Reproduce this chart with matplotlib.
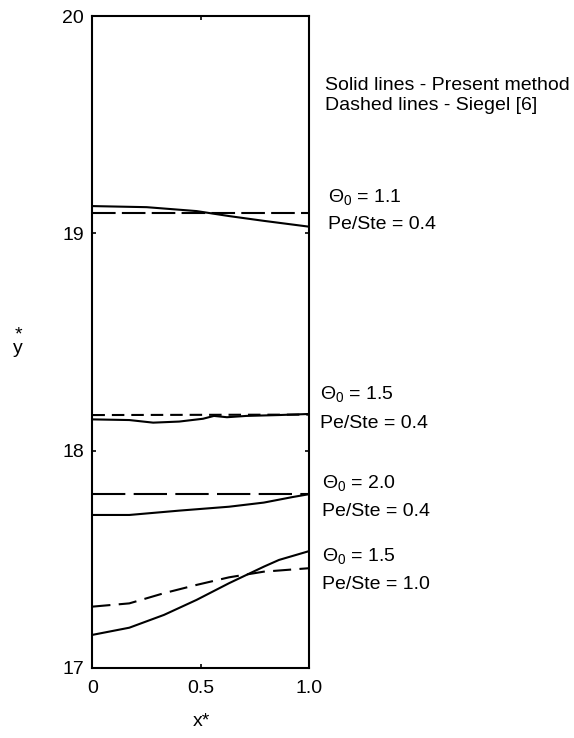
import numpy as np
import matplotlib
matplotlib.use("Agg")
import matplotlib.pyplot as plt
import matplotlib.transforms as mtransforms

plt.rcParams['font.family'] = ['Liberation Sans', 'DejaVu Sans']
plt.rcParams['mathtext.fontset'] = 'custom'
plt.rcParams['mathtext.rm'] = 'Liberation Sans'
plt.rcParams['mathtext.it'] = 'Liberation Sans'
plt.rcParams['lines.scale_dashes'] = False

# present method (solid) and Siegel [6] (dashed)
x_solid_a = [0.0, 0.25, 0.48, 0.63, 0.79, 1.0]
y_solid_a = [19.126, 19.121, 19.103, 19.080, 19.058, 19.031]
x_dash_a = [0.0, 1.0]
y_dash_a = [19.094, 19.094]

x_solid_b = [0.0, 0.17, 0.28, 0.40, 0.51, 0.56, 0.62, 0.71, 0.86, 1.0]
y_solid_b = [18.144, 18.141, 18.129, 18.134, 18.147, 18.160, 18.154, 18.160, 18.164, 18.169]
x_dash_b = [0.0, 1.0]
y_dash_b = [18.164, 18.166]

x_solid_c = [0.0, 0.17, 0.40, 0.63, 0.79, 0.92, 1.0]
y_solid_c = [17.704, 17.704, 17.724, 17.742, 17.761, 17.786, 17.800]
x_dash_c = [0.0, 1.0]
y_dash_c = [17.799, 17.799]

x_solid_d = [0.0, 0.17, 0.33, 0.48, 0.63, 0.79, 0.86, 1.0]
y_solid_d = [17.152, 17.185, 17.244, 17.313, 17.390, 17.466, 17.497, 17.538]
x_dash_d = [0.0, 0.17, 0.33, 0.48, 0.63, 0.79, 1.0]
y_dash_d = [17.282, 17.297, 17.344, 17.382, 17.417, 17.443, 17.459]

labels = [("1.1", "0.4"), ("1.5", "0.4"), ("2.0", "0.4"), ("1.5", "1.0")]
label_y = [(19.167, 19.039), (18.261, 18.123), (17.851, 17.718), (17.515, 17.382)]
label_x = [1.085, 1.05, 1.06, 1.06]

fig = plt.figure(figsize=(5.74, 7.38), dpi=100)
ax = fig.add_axes([0.161, 0.095, 0.378, 0.883])

lw = 1.5
ax.plot(x_solid_a, y_solid_a, color='black', lw=lw)
ax.plot(x_dash_a, y_dash_a, color='black', lw=lw, dashes=(17, 4.5))
ax.plot(x_solid_b, y_solid_b, color='black', lw=lw)
ax.plot(x_dash_b, y_dash_b, color='black', lw=lw, dashes=(9, 5))
ax.plot(x_solid_c, y_solid_c, color='black', lw=lw)
ax.plot(x_dash_c, y_dash_c, color='black', lw=lw, dashes=(24, 6))
ax.plot(x_solid_d, y_solid_d, color='black', lw=lw)
ax.plot(x_dash_d, y_dash_d, color='black', lw=lw, dashes=(13, 6))

ax.set_xlim(0, 1)
ax.set_ylim(17, 20)
ax.set_xticks([0, 0.5, 1.0])
ax.set_xticklabels(['0', '0.5', '1.0'])
ax.set_yticks([17, 18, 19, 20])
ax.tick_params(direction='in', length=3, width=1.2, labelsize=14,
               right=True, top=True, pad=6)
ax.tick_params(axis='x', pad=9)
for s in ax.spines.values():
    s.set_linewidth(1.5)

trans = mtransforms.blended_transform_factory(ax.transAxes, ax.transData)
fs = 14
ax.text(1.07, 19.683, "Solid lines - Present method", transform=trans,
        fontsize=fs, va='center', ha='left', clip_on=False)
ax.text(1.07, 19.591, "Dashed lines - Siegel [6]", transform=trans,
        fontsize=fs, va='center', ha='left', clip_on=False)
for (th, pe), (yt, yp), xl in zip(labels, label_y, label_x):
    ax.text(xl, yt, "\u0398$_0$ = " + th, transform=trans, fontsize=fs,
            va='center', ha='left', clip_on=False)
    ax.text(xl, yp, "Pe/Ste = " + pe, transform=trans, fontsize=fs,
            va='center', ha='left', clip_on=False)

# axis labels
fig.text(18 / 574, 1 - 342 / 738, "*\ny", fontsize=fs, ha='center',
         va='center', multialignment='center', linespacing=0.75)
fig.text(201 / 574, 1 - 722 / 738, "x*", fontsize=fs, ha='center', va='center')

fig.savefig("out.png", dpi=100)
